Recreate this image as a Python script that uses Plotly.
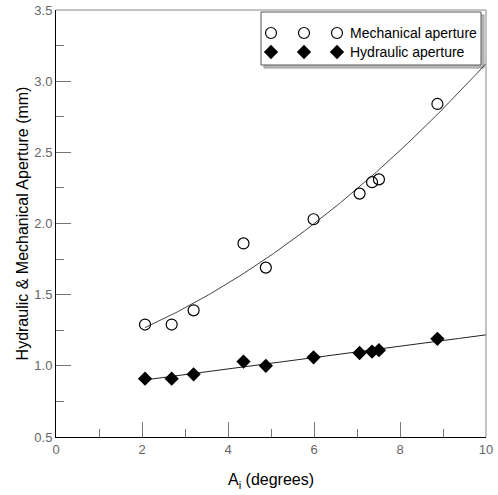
import numpy as np
import plotly.graph_objects as go

# Data
angle = [2.07, 2.69, 3.20, 4.36, 4.88, 5.99, 7.06, 7.35, 7.51, 8.87]
mechanical = [1.29, 1.29, 1.39, 1.86, 1.69, 2.03, 2.21, 2.29, 2.31, 2.84]
hydraulic = [0.91, 0.91, 0.94, 1.03, 1.00, 1.06, 1.09, 1.10, 1.11, 1.19]

x_ticks = [0, 2, 4, 6, 8, 10]
y_ticks = [0.5, 1.0, 1.5, 2.0, 2.5, 3.0, 3.5]

# Fit curves (quadratic for mechanical, linear for hydraulic)
xf = np.linspace(min(angle), 10, 200)
pm = np.polyfit(angle, mechanical, 2)
ph = np.polyfit(angle, hydraulic, 1)

FONT = "Liberation Sans, Arial, sans-serif"
fig = go.Figure()
fig.add_trace(go.Scatter(x=xf, y=np.polyval(pm, xf), mode="lines",
                         line=dict(color="#444", width=1), showlegend=False, hoverinfo="skip"))
fig.add_trace(go.Scatter(x=xf, y=np.polyval(ph, xf), mode="lines",
                         line=dict(color="#222", width=1), showlegend=False, hoverinfo="skip"))
fig.add_trace(go.Scatter(x=angle, y=mechanical, mode="markers", name="Mechanical aperture",
                         marker=dict(symbol="circle-open", size=11, color="black", line=dict(width=1.2)),
                         showlegend=False))
fig.add_trace(go.Scatter(x=angle, y=hydraulic, mode="markers", name="Hydraulic aperture",
                         marker=dict(symbol="diamond", size=11, color="black"),
                         showlegend=False))

W, H = 498, 495
L, R, T, B = 56, 12, 10, 58
pw, ph_ = W - L - R, H - T - B
def px(x):
    return (x - L) / pw
def py(y):
    return 1 - (y - T) / ph_

# Manual legend (three markers per entry) on an auxiliary axis spanning the plot area
leg_xpix = [271, 304, 337]
fig.add_trace(go.Scatter(x=[px(v) for v in leg_xpix], y=[py(33)] * 3, mode="markers",
                         marker=dict(symbol="circle-open", size=11, color="black", line=dict(width=1.2)),
                         xaxis="x2", yaxis="y2", showlegend=False, hoverinfo="skip"))
fig.add_trace(go.Scatter(x=[px(v) for v in leg_xpix], y=[py(52)] * 3, mode="markers",
                         marker=dict(symbol="diamond", size=11, color="black"),
                         xaxis="x2", yaxis="y2", showlegend=False, hoverinfo="skip"))

shapes = [
    dict(type="line", xref="paper", yref="paper", x0=0, x1=1, y0=1, y1=1, line=dict(color="#888", width=1)),
    dict(type="line", xref="paper", yref="paper", x0=1, x1=1, y0=0, y1=1, line=dict(color="#888", width=1)),
    dict(type="rect", xref="paper", yref="paper", x0=px(264), x1=px(484), y0=py(68), y1=py(15),
         line=dict(color="#999", width=1), fillcolor="#bbb", layer="below"),
    dict(type="rect", xref="paper", yref="paper", x0=px(261), x1=px(481), y0=py(65), y1=py(12),
         line=dict(color="#555", width=1), fillcolor="white", layer="below"),
]
annotations = [
    dict(xref="paper", yref="paper", x=px(348), y=py(33), xanchor="left", yanchor="middle",
         text="Mechanical aperture", showarrow=False, font=dict(family=FONT, size=14, color="black")),
    dict(xref="paper", yref="paper", x=px(348), y=py(52), xanchor="left", yanchor="middle",
         text="Hydraulic aperture", showarrow=False, font=dict(family=FONT, size=14, color="black")),
]

fig.update_layout(
    width=W, height=H, margin=dict(l=L, r=R, t=T, b=B, autoexpand=False),
    paper_bgcolor="white", plot_bgcolor="white",
    font=dict(family=FONT, size=13, color="#555"),
    shapes=shapes, annotations=annotations,
    xaxis=dict(range=[0, 10], tickvals=x_ticks, ticks="inside", ticklen=15, tickcolor="#777",
               showline=True, linecolor="black", linewidth=1, showgrid=False, zeroline=False,
               automargin=False,
               minor=dict(dtick=1, ticks="inside", ticklen=8, tickcolor="#777"),
               title=dict(text="A<sub>i</sub> (degrees)", font=dict(family=FONT, size=16, color="black"), standoff=18),
               tickfont=dict(size=13, color="#666")),
    yaxis=dict(range=[0.5, 3.5], tickvals=y_ticks, tickformat=".1f", ticks="inside", ticklen=15, tickcolor="#777",
               showline=True, linecolor="black", linewidth=1, showgrid=False, zeroline=False,
               automargin=False,
               minor=dict(dtick=0.25, ticks="inside", ticklen=8, tickcolor="#777"),
               title=dict(text="Hydraulic &amp; Mechanical Aperture (mm)", font=dict(family=FONT, size=16, color="black"), standoff=1),
               tickfont=dict(size=13, color="#666")),
    xaxis2=dict(domain=[0, 1], range=[0, 1], visible=False, overlaying="x"),
    yaxis2=dict(domain=[0, 1], range=[0, 1], visible=False, overlaying="y"),
)

fig.write_html("out.html")
